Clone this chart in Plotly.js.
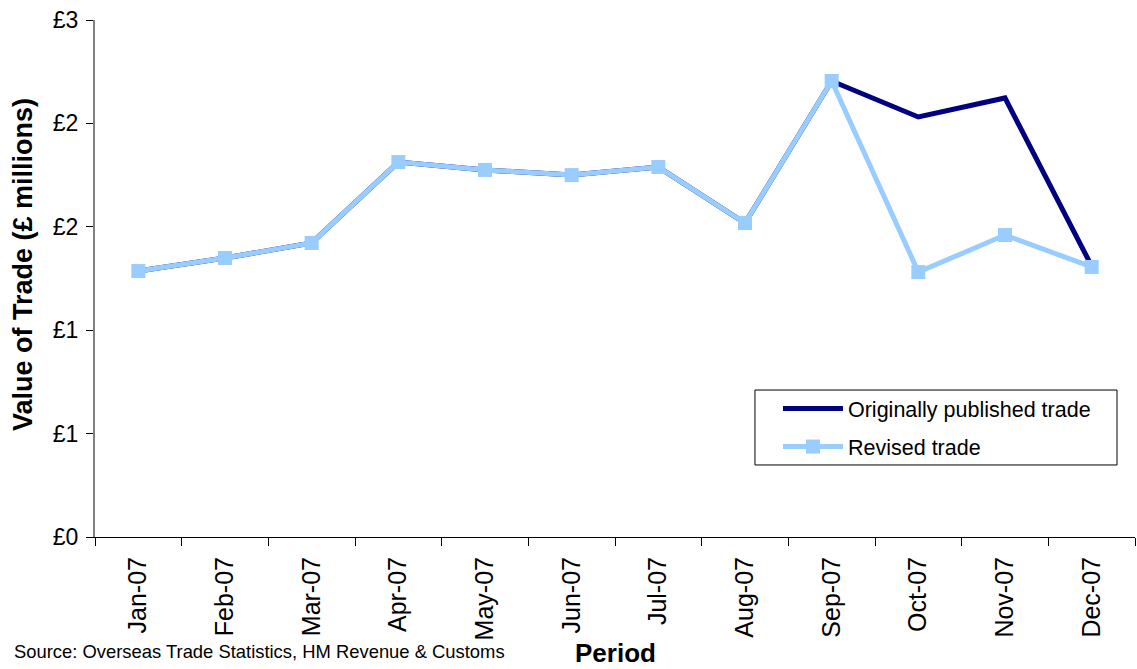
<!DOCTYPE html>
<html>
<head>
<meta charset="utf-8">
<script src="https://cdn.plot.ly/plotly-3.0.1.min.js"></script>
<style>html,body{margin:0;padding:0;background:#fff;}#chart{width:1137px;height:669px;}</style>
</head>
<body>
<div id="chart"></div>
<script>
const months = ['Jan-07','Feb-07','Mar-07','Apr-07','May-07','Jun-07','Jul-07','Aug-07','Sep-07','Oct-07','Nov-07','Dec-07'];
const originalTrade = [1.286,1.349,1.422,1.813,1.775,1.750,1.789,1.518,2.205,2.031,2.123,1.310];
const revisedTrade  = [1.286,1.349,1.422,1.813,1.775,1.750,1.789,1.518,2.205,1.281,1.460,1.306];
const yTickVals = [0,0.5,1,1.5,2,2.5];
const yTickText = ['£0','£1','£1','£2','£2','£3'];

const font = 'Liberation Sans, Arial, sans-serif';
const traces = [
  {x: months, y: originalTrade, type:'scatter', mode:'lines', name:'Originally published trade',
   legendgroup:'a', line:{color:'#000080', width:5}},
  {x: months, y: revisedTrade, type:'scatter', mode:'lines+markers', name:'Revised trade',
   legendgroup:'b', line:{color:'#99CCFF', width:5}, marker:{symbol:'square', size:14, color:'#99CCFF'}}
];
const layout = {
  width:1137, height:669,
  margin:{l:95, r:2, t:20, b:132},
  paper_bgcolor:'#fff', plot_bgcolor:'#fff',
  font:{family:font, color:'#000', size:21},
  showlegend:true,
  legend:{x:0.6346, y:0.288, xanchor:'left', yanchor:'top', borderwidth:0,
    bgcolor:'rgba(0,0,0,0)', font:{size:21.5, family:font}, itemwidth:60, indentation:23,
    traceorder:'grouped', tracegroupgap:7},
  xaxis:{type:'category', range:[-0.5,11.5], tickson:'boundaries', ticks:'outside', ticklen:8,
    tickcolor:'#000', showline:true, linecolor:'#000', linewidth:1, showgrid:false, zeroline:false,
    tickangle:-90, tickfont:{size:25, family:font}, ticklabelstandoff:9, fixedrange:true},
  yaxis:{range:[0,2.5], tickvals:yTickVals, ticktext:yTickText, ticks:'outside', ticklen:7,
    tickcolor:'#000', showline:true, linecolor:'#808080', linewidth:2, showgrid:false, zeroline:false,
    tickfont:{size:23, family:font}, ticklabelstandoff:3},
  shapes:[
    {type:'rect', xref:'paper', yref:'paper', x0:0.6346, x1:0.9827, y0:0.1393, y1:0.2843,
     line:{color:'#000', width:1}, fillcolor:'rgba(255,255,255,1)', layer:'below'}
  ],
  annotations:[
    {text:'<b>Value of Trade (£ millions)</b>', xref:'paper', yref:'paper', x:-0.0692, y:0.526,
     xanchor:'center', yanchor:'middle', textangle:-90, showarrow:false, font:{size:27, family:font}},
    {text:'<b>Period</b>', xref:'paper', yref:'paper', x:0.5, y:-0.2244, xanchor:'center', yanchor:'middle',
     showarrow:false, font:{size:26, family:font}},
    {text:'Source: Overseas Trade Statistics, HM Revenue & Customs', xref:'paper', yref:'paper',
     x:-0.0798, y:-0.222, xanchor:'left', yanchor:'middle', showarrow:false, font:{size:18.4, family:font}}
  ]
};
Plotly.newPlot('chart', traces, layout, {displayModeBar:false, staticPlot:true});
</script>
</body>
</html>
